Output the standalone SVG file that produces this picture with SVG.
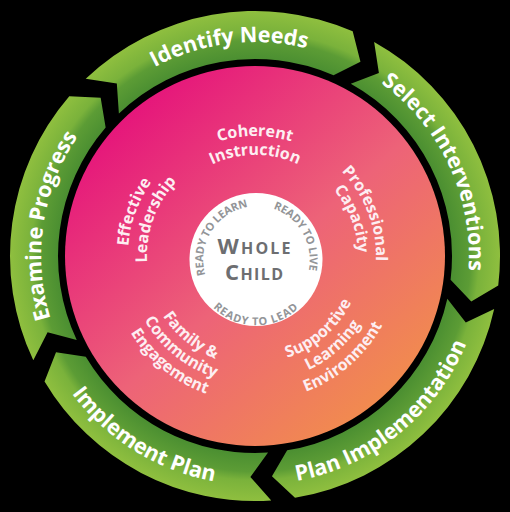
<svg xmlns="http://www.w3.org/2000/svg" width="510" height="512" viewBox="0 0 510 512">
<defs>
<radialGradient id="gr" gradientUnits="userSpaceOnUse" cx="255" cy="256" r="245">
<stop offset="0.80" stop-color="#4a8e31"/>
<stop offset="0.88" stop-color="#5c9c35"/>
<stop offset="0.915" stop-color="#7ab23b"/>
<stop offset="1" stop-color="#8fbf3f"/>
</radialGradient>
<linearGradient id="pk" x1="0.15" y1="0.1" x2="0.9" y2="0.95">
<stop offset="0" stop-color="#e5127b"/>
<stop offset="0.5" stop-color="#ed6378"/>
<stop offset="1" stop-color="#f29346"/>
</linearGradient>
<path id="tIdentify" d="M41.3,244.8 A214,214 0 0 1 459.6,193.4"/>
<path id="tSelect" d="M199.6,49.3 A214,214 0 0 1 377.7,431.3"/>
<path id="tExamine" d="M187.1,458.9 A214,214 0 0 1 249.4,42.1"/>
<path id="tPlanImpl" d="M104.8,428.8 A229,229 0 0 0 455.3,145.0"/>
<path id="tImplPlan" d="M42.2,171.3 A229,229 0 0 0 426.0,408.3"/>
<path id="lCoh" d="M136.8,235.2 A120,120 0 0 1 373.2,235.2"/>
<path id="lIns" d="M155.5,238.5 A101,101 0 0 1 354.5,238.5"/>
<path id="lPro" d="M231.9,137.2 A121,121 0 0 1 317.3,359.7"/>
<path id="lCap" d="M235.3,154.9 A103,103 0 0 1 308.0,344.3"/>
<path id="lEff" d="M191.5,366.0 A127,127 0 0 1 277.0,130.9"/>
<path id="lLea" d="M201,349.5 A108,108 0 0 1 273.8,149.6"/>
<path id="lFam" d="M158.8,202.7 A110,110 0 0 0 327.2,339.0"/>
<path id="lCom" d="M143.1,193.9 A128,128 0 0 0 339.0,352.6"/>
<path id="lEng" d="M127.3,185.2 A146,146 0 0 0 350.8,366.2"/>
<path id="lSup" d="M187.7,339.1 A107,107 0 0 0 346.7,200.9"/>
<path id="lLrn" d="M175.7,353.9 A126,126 0 0 0 363.0,191.1"/>
<path id="lEnv" d="M163.8,368.7 A145,145 0 0 0 379.3,181.3"/>
<path id="rLearn" d="M223.6,302.4 A54,54 0 0 1 280.5,211.4"/>
<path id="rLive" d="M233.2,210.6 A54,54 0 0 1 287.0,303.7"/>
<path id="rLead" d="M195.2,264.5 A56,56 0 0 0 316.8,264.5"/>
</defs>
<style>
.arrow { fill: url(#gr); }
.ring { font-family: "Open Sans", "Noto Sans", sans-serif; font-weight: 700; font-size: 21.5px; fill: #ffffff; }
.lbl { font-family: "Open Sans", "Noto Sans", sans-serif; font-weight: 700; font-size: 16px; fill: #fdeef2; }
.ready { font-family: "Open Sans", "Noto Sans", sans-serif; font-weight: 700; font-size: 11px; letter-spacing: -0.2px; fill: #939598; }
.lead { letter-spacing: 0.8px; }
.whole { font-family: "Open Sans", "Noto Sans", sans-serif; font-weight: 700; fill: #6d6e71; }
</style>
<rect x="0" y="0" width="510" height="512" fill="#000000"/>

<g id="connectors"></g>

<g id="identify-needs">
<path class="arrow" d="M85.73,78.86 A245,245 0 0 1 352.68,31.31 L360.46,61.79 L333.54,75.33 A197,197 0 0 0 118.89,113.57 L116.83,83.53 Z"/>
<text class="ring"><textPath href="#tIdentify" startOffset="50%" text-anchor="middle">Identify Needs</textPath></text>
</g>
<g id="select-interventions">
<path class="arrow" d="M374.14,41.92 A245,245 0 0 1 498.24,285.42 L471.25,301.57 L450.58,279.66 A197,197 0 0 0 350.80,83.86 L378.89,72.99 Z"/>
<text class="ring"><textPath href="#tSelect" startOffset="50%" text-anchor="middle">Select Interventions</textPath></text>
</g>
<g id="plan-implementation">
<path class="arrow" d="M494.19,309.02 A245,245 0 0 1 295.01,497.72 L271.95,476.36 L287.17,450.36 A197,197 0 0 0 447.33,298.63 L465.77,322.45 Z"/>
<text class="ring"><textPath href="#tPlanImpl" startOffset="50%" text-anchor="middle">Plan Implementation</textPath></text>
</g>
<g id="implement-plan">
<path class="arrow" d="M271.24,500.46 A245,245 0 0 1 44.54,381.44 L56.03,352.18 L85.78,356.86 A197,197 0 0 0 268.06,452.57 L250.37,476.95 Z"/>
<text class="ring"><textPath href="#tImplPlan" startOffset="50%" text-anchor="middle">Implement Plan</textPath></text>
</g>
<g id="examine-progress">
<path class="arrow" d="M33.32,360.32 A245,245 0 0 1 69.27,96.24 L100.65,97.83 L105.65,127.54 A197,197 0 0 0 76.75,339.88 L47.59,332.31 Z"/>
<text class="ring"><textPath href="#tExamine" startOffset="50%" text-anchor="middle">Examine Progress</textPath></text>
</g>

<g id="core">
<circle cx="255" cy="256" r="190" fill="url(#pk)"/>
</g>

<g id="coherent-instruction">
<text class="lbl"><textPath href="#lCoh" startOffset="50%" text-anchor="middle">Coherent</textPath></text>
<text class="lbl"><textPath href="#lIns" startOffset="50%" text-anchor="middle">Instruction</textPath></text>
</g>
<g id="professional-capacity">
<text class="lbl"><textPath href="#lPro" startOffset="50%" text-anchor="middle">Professional</textPath></text>
<text class="lbl"><textPath href="#lCap" startOffset="50%" text-anchor="middle">Capacity</textPath></text>
</g>
<g id="supportive-learning-environment">
<text class="lbl"><textPath href="#lSup" startOffset="50%" text-anchor="middle">Supportive</textPath></text>
<text class="lbl"><textPath href="#lLrn" startOffset="50%" text-anchor="middle">Learning</textPath></text>
<text class="lbl"><textPath href="#lEnv" startOffset="50%" text-anchor="middle">Environment</textPath></text>
</g>
<g id="family-community-engagement">
<text class="lbl"><textPath href="#lFam" startOffset="50%" text-anchor="middle">Family &amp;</textPath></text>
<text class="lbl"><textPath href="#lCom" startOffset="50%" text-anchor="middle">Community</textPath></text>
<text class="lbl"><textPath href="#lEng" startOffset="50%" text-anchor="middle">Engagement</textPath></text>
</g>
<g id="effective-leadership">
<text class="lbl"><textPath href="#lEff" startOffset="50%" text-anchor="middle">Effective</textPath></text>
<text class="lbl"><textPath href="#lLea" startOffset="50%" text-anchor="middle">Leadership</textPath></text>
</g>

<g id="whole-child">
<circle cx="256" cy="259.5" r="66.5" fill="#ffffff"/>
<text class="whole" x="254" y="254" text-anchor="middle" textLength="73" lengthAdjust="spacing"><tspan font-size="22">W</tspan><tspan font-size="16">HOLE</tspan></text>
<text class="whole" x="254" y="280" text-anchor="middle" textLength="58" lengthAdjust="spacing"><tspan font-size="22">C</tspan><tspan font-size="16">HILD</tspan></text>
<text class="ready"><textPath href="#rLearn" startOffset="50%" text-anchor="middle">READY TO LEARN</textPath></text>
<text class="ready"><textPath href="#rLive" startOffset="50%" text-anchor="middle">READY TO LIVE</textPath></text>
<text class="ready lead"><textPath href="#rLead" startOffset="50%" text-anchor="middle">READY TO LEAD</textPath></text>
</g>
</svg>
